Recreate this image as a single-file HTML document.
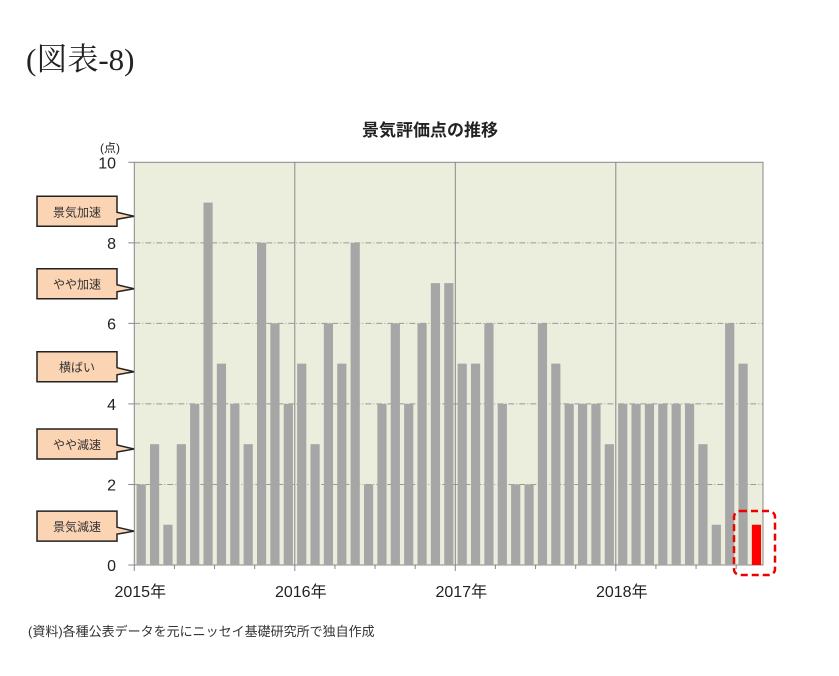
<!DOCTYPE html>
<html><head><meta charset="utf-8">
<style>
body{margin:0;background:#fff;width:839px;height:676px;overflow:hidden}
svg{display:block}
text{font-family:"Liberation Sans","Noto Sans CJK JP",sans-serif}
</style></head>
<body>
<svg id="chart" width="839" height="676" xmlns="http://www.w3.org/2000/svg">
<text x="26" y="70" font-size="31" fill="#222" style="font-family:'Liberation Serif','Noto Serif CJK SC',serif">(図表-8)</text>
<text x="430" y="136" font-size="17" font-weight="bold" text-anchor="middle" fill="#222">景気評価点の推移</text>
<text x="110" y="152" font-size="12" text-anchor="middle" fill="#222">(点)</text>
<rect x="134.3" y="162.3" width="628.7" height="402.7" fill="#ebeedd" stroke="#888" stroke-width="1"/>
<g id="grid"></g>
<g id="bars"></g>
<g id="axes"></g>
<rect x="734" y="511" width="41" height="64" rx="6" fill="none" stroke="#e00" stroke-width="2.5" stroke-dasharray="7,4"/>
<g id="callouts"></g>
<text x="28" y="636" font-size="13" fill="#333">(資料)各種公表データを元にニッセイ基礎研究所で独自作成</text>
</svg>
<script>
const years = ["2015年","2016年","2017年","2018年"];
const values2015 = [2,3,1,3,4,9,5,4,3,8,6,4];
const values2016 = [5,3,6,5,8,2,4,6,4,6,7,7];
const values2017 = [5,5,6,4,2,2,6,5,4,4,4,3];
const values2018 = [4,4,4,4,4,4,3,1,6,5,1];
const yTicks = [0,2,4,6,8,10];
const calloutLabels = ["景気加速","やや加速","横ばい","やや減速","景気減速"];
const calloutLevels = [8.66,6.86,4.8,2.88,0.84];

const values = values2015.concat(values2016, values2017, values2018);
const NS = "http://www.w3.org/2000/svg";
const X0 = 134.3, MONTH = 13.375, Y0 = 565, YTOP = 162.3;
const xPos = i => X0 + i * MONTH;
const yPos = v => Y0 - (v / 10) * (Y0 - YTOP);
function mk(tag, attrs, parent){
  const e = document.createElementNS(NS, tag);
  for (const k in attrs) e.setAttribute(k, attrs[k]);
  parent.appendChild(e); return e;
}
const grid = document.getElementById('grid');
const bars = document.getElementById('bars');
const axes = document.getElementById('axes');
const callouts = document.getElementById('callouts');

yTicks.forEach(t => {
  if (t > 0 && t < 10) {
    const l = mk('line', {x1:X0, x2:763, y1:yPos(t), y2:yPos(t), stroke:'#999', 'stroke-dasharray':'6,2,1,2', 'stroke-width':1}, grid);
    
    
  }
  const tk = mk('line', {x1:X0-6, x2:X0, y1:yPos(t), y2:yPos(t), stroke:'#888'}, axes);
  
  
  const tx = mk('text', {x:116, y:yPos(t)+6, 'font-size':16, 'text-anchor':'end', fill:'#222'}, axes);
  tx.textContent = t;
  
  
});
years.forEach((y, k) => {
  const x = xPos(k * 12);
  if (k > 0) {
    const l = mk('line', {x1:x, x2:x, y1:YTOP, y2:Y0, stroke:'#888', 'stroke-width':1}, grid);
    
    
  }
  const t = mk('text', {x:x+6, y:597, 'font-size':16, 'text-anchor':'middle', fill:'#222'}, axes);
  t.textContent = y;
  
  
});
for (let i = 0; i < values.length; i += 3) {
  const tk = mk('line', {x1:xPos(i), x2:xPos(i), y1:Y0, y2:Y0 + (i % 12 === 0 ? 6 : 4), stroke:'#888'}, axes);
  
  
}
values.forEach((v, i) => {
  const last = i === values.length - 1;
  const r = mk('rect', {x:xPos(i)+2.3, y:yPos(v), width:9.2, height:Y0-yPos(v), fill: last ? '#ff0000' : '#a6a6a6'}, bars);
  
  
});
calloutLabels.forEach((lab, k) => {
  const cy = yPos(calloutLevels[k]);
  const top = cy - 20, bot = cy + 10;
  const p = mk('path', {d:`M37,${top} H117 V${cy-4} L134,${cy} L117,${cy+3} V${bot} H37 Z`, fill:'#fbd4b4', stroke:'#222', 'stroke-width':1.5}, callouts);
  
  
  const t = mk('text', {x:77, y:top+20, 'font-size':12, 'text-anchor':'middle', fill:'#333'}, callouts);
  t.textContent = lab;
  
  
});
</script>
</body></html>
